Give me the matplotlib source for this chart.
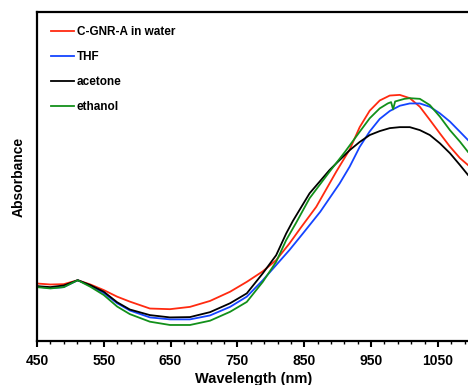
import matplotlib
matplotlib.use("Agg")
import matplotlib.pyplot as plt

plt.rcParams['font.family'] = ['Liberation Sans', 'DejaVu Sans']
plt.rcParams['font.weight'] = 'bold'

# wavelength (nm) and absorbance (arb. units)
wl_red = [450, 470, 490, 511, 530, 550, 570, 589, 619, 649, 679, 709, 739, 764, 788,
          808, 828, 845, 868, 898, 918, 933, 948, 963, 978, 993, 1008, 1023, 1038,
          1053, 1068, 1083, 1095]
ab_red = [0.175, 0.172, 0.173, 0.185, 0.172, 0.155, 0.135, 0.120, 0.099, 0.097, 0.104,
          0.122, 0.150, 0.180, 0.212, 0.246, 0.297, 0.345, 0.408, 0.515, 0.582, 0.650,
          0.700, 0.731, 0.746, 0.748, 0.738, 0.712, 0.672, 0.631, 0.591, 0.556, 0.535]

wl_blue = [450, 470, 490, 511, 530, 550, 570, 589, 619, 649, 679, 709, 739, 764, 788,
           808, 828, 848, 874, 903, 918, 933, 948, 963, 978, 993, 1008, 1023, 1038,
           1053, 1068, 1083, 1095]
ab_blue = [0.166, 0.161, 0.164, 0.185, 0.168, 0.146, 0.115, 0.093, 0.072, 0.066, 0.066,
           0.078, 0.104, 0.135, 0.185, 0.231, 0.277, 0.327, 0.393, 0.479, 0.530, 0.590,
           0.637, 0.675, 0.699, 0.715, 0.722, 0.722, 0.712, 0.692, 0.667, 0.636, 0.611]

wl_black = [450, 470, 490, 511, 530, 550, 570, 589, 619, 649, 679, 709, 739, 764, 788,
            808, 823, 833, 858, 888, 918, 933, 948, 963, 978, 993, 1008, 1023, 1038,
            1053, 1068, 1083, 1095]
ab_black = [0.167, 0.164, 0.169, 0.185, 0.170, 0.150, 0.118, 0.096, 0.079, 0.072, 0.073,
            0.088, 0.115, 0.145, 0.206, 0.261, 0.327, 0.365, 0.449, 0.520, 0.580, 0.605,
            0.626, 0.638, 0.647, 0.650, 0.650, 0.641, 0.626, 0.601, 0.571, 0.535, 0.505]

wl_green = [450, 470, 490, 511, 530, 550, 570, 589, 619, 649, 679, 709, 739, 764, 788,
            808, 823, 838, 858, 888, 911, 933, 948, 963, 975, 980, 983, 986, 1000, 1008,
            1023, 1038, 1053, 1068, 1083, 1095]
ab_green = [0.164, 0.160, 0.164, 0.185, 0.165, 0.140, 0.105, 0.082, 0.059, 0.049, 0.049,
            0.062, 0.089, 0.119, 0.180, 0.241, 0.307, 0.360, 0.434, 0.515, 0.575, 0.636,
            0.677, 0.707, 0.722, 0.726, 0.704, 0.728, 0.736, 0.738, 0.736, 0.717, 0.682,
            0.641, 0.606, 0.575]

fig = plt.figure(figsize=(4.68, 3.85), dpi=100)
ax = fig.add_axes([0.079, 0.114, 0.928, 0.855])

ax.plot(wl_red, ab_red, color='#ff2a10', lw=1.3, label='C-GNR-A in water')
ax.plot(wl_blue, ab_blue, color='#1444ff', lw=1.3, label='THF')
ax.plot(wl_black, ab_black, color='black', lw=1.3, label='acetone')
ax.plot(wl_green, ab_green, color='#12901a', lw=1.3, label='ethanol')

ax.set_xlim(450, 1100)
ax.set_ylim(0, 1)
ax.set_xticks(range(450, 1100, 100))
ax.set_xticks(range(450, 1100, 20), minor=True)
ax.set_yticks([])
ax.tick_params(axis='x', which='major', direction='out', length=4, width=1.5,
               labelsize=10, pad=5)
ax.tick_params(axis='x', which='minor', direction='out', length=2, width=1)
for lbl in ax.get_xticklabels():
    lbl.set_fontweight('bold')
for s in ax.spines.values():
    s.set_linewidth(1.6)

ax.set_xlabel('Wavelength (nm)', fontsize=10.5, fontweight='bold', labelpad=3.5)
ax.set_ylabel('Absorbance', fontsize=10, fontweight='bold', labelpad=8)

leg = ax.legend(loc='upper left', bbox_to_anchor=(0.032, 0.957), frameon=False,
                borderpad=0, borderaxespad=0, handlelength=2.0, handletextpad=0.2,
                labelspacing=1.1, prop={'size': 8.5, 'weight': 'bold'})

fig.savefig('out.png', dpi=100)
